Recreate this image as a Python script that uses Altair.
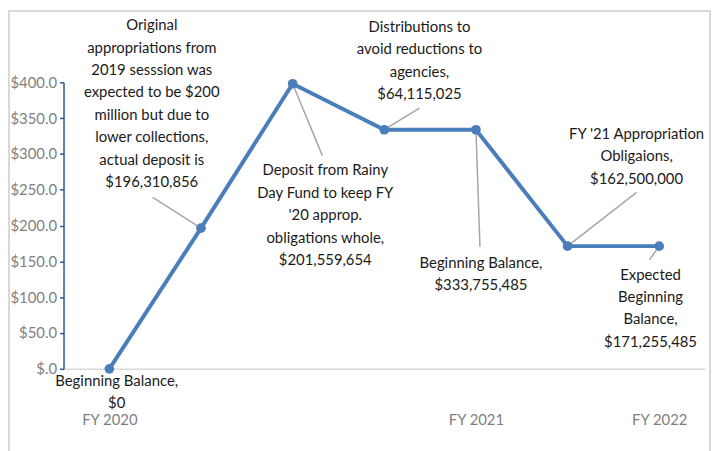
import altair as alt
import pandas as pd

# ---- data ----
period_idx = [0, 1, 2, 3, 4, 5, 6]
balance_musd = [0.0, 196.310856, 397.87051, 333.755485, 333.755485, 171.255485, 171.255485]
tick_labels = {0: "FY 2020", 4: "FY 2021", 6: "FY 2022"}
y_ticks = [0, 50, 100, 150, 200, 250, 300, 350, 400]

ann_texts = [
    ["Beginning Balance,", "$0"],
    ["Original", "appropriations from", "2019 sesssion was", "expected to be $200",
     "million but due to", "lower collections,", "actual deposit is", "$196,310,856"],
    ["Deposit from Rainy", "Day Fund to keep FY", "'20 approp.", "obligations whole,", "$201,559,654"],
    ["Distributions to", "avoid reductions to", "agencies,", "$64,115,025"],
    ["Beginning Balance,", "$333,755,485"],
    ["FY '21 Appropriation", "Obligaions,", "$162,500,000"],
    ["Expected", "Beginning", "Balance,", "$171,255,485"],
]
# first-line anchor of each label (data units: period index, $ millions)
ann_x = [0.08, 0.463, 2.356, 3.384, 4.055, 5.753, 5.905]
ann_y = [-16.6, 479.7, 276.8, 477.5, 148.1, 328.0, 131.5]
# leader lines: from point index to label end (data units)
lead_from = [1, 2, 3, 4, 5, 6]
lead_x2 = [0.474, 2.324, 3.384, 4.044, 5.753, 5.894]
lead_y2 = [239.4, 297.6, 364.0, 170.2, 246.4, 152.2]

FONT = "Lato"

df = pd.DataFrame({"i": period_idx, "v": balance_musd})
ann = pd.DataFrame({"x": ann_x, "y": ann_y, "t": ann_texts})
lead = pd.DataFrame({
    "x": [period_idx[k] for k in lead_from],
    "y": [balance_musd[k] for k in lead_from],
    "x2": lead_x2,
    "y2": lead_y2,
})

xscale = alt.Scale(domain=[-0.5, 6.5], nice=False, zero=False)
yscale = alt.Scale(domain=[0, 400], nice=False)

label_expr = "datum.value == 0 ? 'FY 2020' : datum.value == 4 ? 'FY 2021' : datum.value == 6 ? 'FY 2022' : ''"

xaxis = alt.Axis(
    values=list(tick_labels.keys()), labelExpr=label_expr, title=None, grid=False,
    ticks=False, domainColor="#D9D9D9", domainWidth=1.5, labelColor="#7F7F7F",
    labelFont=FONT, labelFontSize=15, labelPadding=44, labelOverlap=False,
)
yaxis = alt.Axis(
    values=y_ticks,
    labelExpr="datum.value == 0 ? '$.0' : '$' + format(datum.value, '.1f')",
    title=None, grid=False, domainColor="#2E5597", domainWidth=1.5,
    tickColor="#2E5597", tickSize=4, tickWidth=1.5, labelColor="#7F7F7F",
    labelFont=FONT, labelFontSize=15, labelPadding=3, labelOverlap=False,
    labelLimit=100, labelBound=False, labelFlush=False,
)

frame = alt.Chart(df).mark_rect(
    fill=None, stroke="#D9D9D9", strokeWidth=1.5
).encode(
    x=alt.value(-55.2), x2=alt.value(652), y=alt.value(-72.2), y2=alt.value(400)
)

line = alt.Chart(df).mark_line(
    color="#4A7EBB", strokeWidth=4, point=alt.OverlayMarkDef(color="#4A7EBB", size=95, filled=True, opacity=1)
).encode(
    x=alt.X("i:Q", scale=xscale, axis=xaxis),
    y=alt.Y("v:Q", scale=yscale, axis=yaxis),
)

leaders = alt.Chart(lead).mark_rule(color="#A6A6A6", strokeWidth=1.5).encode(
    x=alt.X("x:Q", scale=xscale, axis=xaxis), y=alt.Y("y:Q", scale=yscale, axis=yaxis),
    x2="x2:Q", y2="y2:Q"
)

labels = alt.Chart(ann).mark_text(
    font=FONT, fontSize=15, color="#1A1A1A", align="center", baseline="middle",
    lineHeight=22.6,
).encode(
    x=alt.X("x:Q", scale=xscale, axis=xaxis), y=alt.Y("y:Q", scale=yscale, axis=yaxis), text="t"
)

chart = alt.layer(frame, leaders, line, labels).properties(
    width=647, height=289,
    autosize=alt.AutoSizeParams(type="none"),
    padding={"left": 56, "top": 73, "right": 6, "bottom": 81},
).configure_view(stroke=None)

chart.save("out.html", embed_options={"renderer": "svg", "actions": False})
